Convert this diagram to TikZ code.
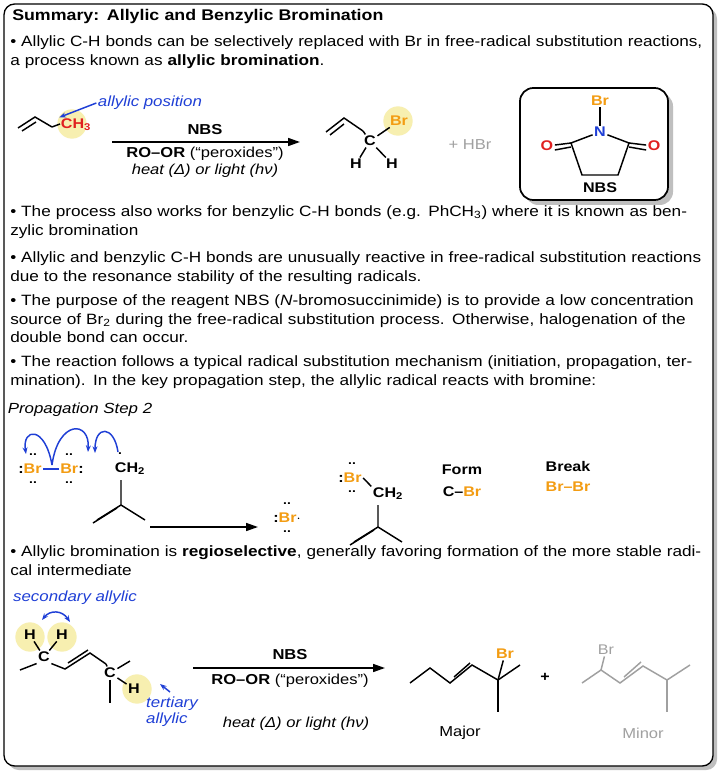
\documentclass[tikz,border=0pt]{standalone}
\usepackage{fontspec}
\setmainfont[FakeStretch=1.15]{Liberation Sans}
\usetikzlibrary{arrows.meta,positioning,calc}
\definecolor{BrOrange}{HTML}{f39c12}
\definecolor{ArrBlue}{HTML}{1f3fd6}
\definecolor{HiYellow}{HTML}{f7efb0}
\definecolor{ProdGray}{HTML}{a0a0a0}
\definecolor{OxRed}{HTML}{e02020}
\newcommand{\brm}{\textcolor{BrOrange}{Br}}
\begin{document}
\begin{tikzpicture}[x=0.75pt,y=-0.75pt,
    para/.style={anchor=north west,align=left,text width=698*0.75pt,
                 font=\fontsize{11.2}{14.2}\selectfont,inner sep=0pt},
    atom/.style={font=\fontsize{10.5}{11}\selectfont\bfseries,inner sep=1pt},
    pair/.style={font=\fontsize{9}{9}\selectfont\bfseries,inner sep=0pt},
    note/.style={font=\fontsize{11}{12}\selectfont\itshape,text=ArrBlue,align=left,inner sep=1pt},
    cond/.style={font=\fontsize{10.8}{12}\selectfont,inner sep=1pt},
    bond/.style={line width=1.1pt},
    glow/.style={circle,fill=HiYellow,minimum size=22pt,inner sep=0pt},
    rxn/.style={-{Triangle[length=9pt,width=6pt]},line width=1.2pt},
    curly/.style={-{Stealth[length=5pt]},ArrBlue,line width=1.1pt}]
  \useasboundingbox (0,0) rectangle (720,773);

  % frame
  \fill[black!25,rounded corners=8pt] (8,8) rectangle (717,770);
  \draw[fill=white,line width=1pt,rounded corners=8pt] (4,4) rectangle (713,766);

  % text
  \node[para,font=\fontsize{11.6}{12}\selectfont\bfseries] (title) at (12,9) {Summary: Allylic and Benzylic Bromination};
  \node[para] (p1) at (10,35) {• Allylic C-H bonds can be selectively replaced with Br in free-radical substitution reactions, a process known as \textbf{allylic bromination}.};
  \node[para] (p2) at (10,205) {• The process also works for benzylic C-H bonds (e.g. PhCH\textsubscript{3}) where it is known as benzylic bromination};
  \node[para] (p3) at (10,251) {• Allylic and benzylic C-H bonds are unusually reactive in free-radical substitution reactions due to the resonance stability of the resulting radicals.};
  \node[para] (p4) at (10,294) {• The purpose of the reagent NBS (\textit{N}-bromosuccinimide) is to provide a low concentration source of Br\textsubscript{2} during the free-radical substitution process. Otherwise, halogenation of the double bond can occur.};
  \node[para] (p5) at (10,355) {• The reaction follows a typical radical substitution mechanism (initiation, propagation, termination). In the key propagation step, the allylic radical reacts with bromine:};
  \node[para] (p6) at (10,545) {• Allylic bromination is \textbf{regioselective}, generally favoring formation of the more stable radical intermediate};

  % reaction 1
  \node[glow] at (72,124) {};
  \draw[bond] (18,128) -- (35,117) -- (52,127);
  \draw[bond] (22,131) -- (36,122);
  \draw[bond] (52,127) -- (60,124);
  \node[atom,text=OxRed] (ch3) at (76,125) {CH\textsubscript{3}};
  \node[note] (allyl) at (150,103) {allylic position};
  \draw[curly] (allyl.west) -- (ch3.north west);
  \coordinate (a1s) at (112,142);
  \coordinate (a1e) at (300,142);
  \draw[rxn] (a1s) -- (a1e);
  \node[cond,font=\fontsize{10.8}{12}\selectfont\bfseries] (nbs1) at (205,130) {NBS};
  \node[cond] (ro1) at (205,154) {\textbf{RO–OR} (“peroxides”)};
  \node[cond,font=\fontsize{10.8}{12}\selectfont\itshape] (ht1) at (205,171) {heat (Δ) or light (hν)};
  \node[glow] at (398,121) {};
  \draw[bond] (326,132) -- (344,118) -- (363,131);
  \draw[bond] (330,135) -- (344,124);
  \node[atom] (c1) at (370,141) {C};
  \draw[bond] (363,131) -- (c1);
  \node[atom,text=BrOrange] (br1) at (399,121) {Br};
  \node[atom] (h1) at (356,164) {H};
  \node[atom] (h2) at (392,164) {H};
  \draw[bond] (c1) -- (br1);
  \draw[bond] (c1) -- (h1);
  \draw[bond] (c1) -- (h2);
  \node[cond,text=ProdGray] (hbr) at (470,145) {+ HBr};

  % NBS box
  \fill[black!25,rounded corners=10pt] (525,93) rectangle (673,205);
  \draw[fill=white,line width=1.3pt,rounded corners=10pt] (520,88) rectangle (668,200);
  \node[atom,text=BrOrange] (nbr) at (600,101) {Br};
  \node[atom,text=ArrBlue] (nn) at (600,132) {N};
  \node[atom,text=OxRed] (o1) at (547,146) {O};
  \node[atom,text=OxRed] (o2) at (654,146) {O};
  \coordinate (cl) at (571,143);
  \coordinate (cr) at (629,143);
  \coordinate (bl) at (582,175);
  \coordinate (br) at (618,175);
  \draw[bond] (nbr) -- (nn);
  \draw[bond] (nn) -- (cl) -- (bl) -- (br) -- (cr) -- (nn);
  \draw[bond] (cl) -- (o1);
  \draw[bond] ($(cl)+(0,4)$) -- ($(o1.east)+(0,4)$);
  \draw[bond] (cr) -- (o2);
  \draw[bond] ($(cr)+(0,4)$) -- ($(o2.west)+(0,4)$);
  \node[atom] (nbs2) at (600,188) {NBS};

  % propagation step 2
  \node[note,text=black] (prop) at (80,410) {Propagation Step 2};
  \node[atom,text=BrOrange] (bra) at (30,469) {\textcolor{black}{:}Br};
  \node[atom,text=BrOrange] (brb) at (72,469) {Br\textcolor{black}{:}};
  \draw[bond,ArrBlue] (bra.east) -- (brb.west);
  \foreach \px/\py in {33/455,33/483,69/455,69/483,287/504,287/532,352/464,352/492}
    \node[pair] at (\px,\py) {..};
  \node[atom] (ch2a) at (130,469) {CH\textsubscript{2}};
  \node[pair] at (120,454) {.};
  \draw[bond] (121,480) -- (121,505) -- (97,520);
  \draw[bond] (117,508) -- (93,523);
  \draw[bond] (121,505) -- (145,520);
  \draw[curly] (52,465) .. controls (45,425) and (22,428) .. (26,454);
  \draw[curly] (52,465) .. controls (58,420) and (90,420) .. (88,452);
  \draw[curly] (118,452) .. controls (114,425) and (95,425) .. (95,453);
  \coordinate (a2s) at (150,527);
  \coordinate (a2e) at (258,527);
  \draw[rxn] (a2s) -- (a2e);
  \node[atom,text=BrOrange] (brr) at (287,518) {\textcolor{black}{:}Br\textcolor{black}{$\cdot$}};
  \node[atom,text=BrOrange] (brp) at (350,478) {\textcolor{black}{:}Br};
  \node[atom] (ch2b) at (388,494) {CH\textsubscript{2}};
  \draw[bond] (brp.east) -- (ch2b.north west);
  \draw[bond] (378,505) -- (378,527) -- (354,542);
  \draw[bond] (374,530) -- (350,545);
  \draw[bond] (378,527) -- (402,542);
  \node[atom] (form) at (462,470) {Form};
  \node[atom] (fcb) at (462,492) {C–\brm};
  \node[atom] (brk) at (568,466) {Break};
  \node[atom,text=BrOrange] (bbb) at (568,487) {Br–Br};

  % regioselectivity
  \node[note] (sec) at (75,598) {secondary allylic};
  \node[glow] at (30,637) {};
  \node[glow] at (62,637) {};
  \node[glow] at (137,689) {};
  \node[atom] (hs1) at (30,635) {H};
  \node[atom] (hs2) at (62,635) {H};
  \node[atom] (cs) at (44,657) {C};
  \draw[bond] (hs1) -- (cs);
  \draw[bond] (hs2) -- (cs);
  \draw[curly,{Stealth[length=5pt]}-{Stealth[length=5pt]}] (42,620) .. controls (50,610) and (62,610) .. (70,622);
  \draw[bond] (20,670) -- (cs.south west);
  \draw[bond] (cs.south east) -- (65,669) -- (90,653) -- (106,664);
  \draw[bond] (68,663) -- (88,650);
  \node[atom] (ct) at (110,673) {C};
  \draw[bond] (106,664) -- (ct);
  \draw[bond] (ct) -- (130,661);
  \draw[bond] (ct) -- (110,703);
  \node[atom] (ht) at (134,689) {H};
  \draw[bond] (ct) -- (ht);
  \node[note] (ter) at (172,712) {tertiary\\allylic};
  \draw[curly] (170,692) -- (160,684);
  \coordinate (a3s) at (193,668);
  \coordinate (a3e) at (385,668);
  \draw[rxn] (a3s) -- (a3e);
  \node[cond,font=\fontsize{10.8}{12}\selectfont\bfseries] (nbs3) at (290,655) {NBS};
  \node[cond] (ro3) at (290,681) {\textbf{RO–OR} (“peroxides”)};
  \node[cond,font=\fontsize{10.8}{12}\selectfont\itshape] (ht3) at (296,724) {heat (Δ) or light (hν)};
  % major
  \draw[bond] (410,683) -- (430,668) -- (450,683) -- (472,665) -- (498,680) -- (520,665);
  \draw[bond] (454,677) -- (470,663);
  \draw[bond] (498,680) -- (498,712);
  \node[atom,text=BrOrange] (brM) at (505,654) {Br};
  \draw[bond] (498,680) -- (brM);
  \node[cond] (maj) at (460,733) {Major};
  \node[atom] (plus) at (545,677) {+};
  % minor
  \begin{scope}[ProdGray]
    \draw[bond] (582,683) -- (601,670) -- (620,683) -- (643,666) -- (667,680) -- (690,665);
    \draw[bond] (624,677) -- (641,662);
    \draw[bond] (667,680) -- (667,712);
    \node[atom,font=\fontsize{10.5}{11}\selectfont] (brm) at (606,650) {Br};
    \draw[bond] (601,670) -- (brm);
    \node[cond] (mnr) at (643,733) {Minor};
  \end{scope}
\end{tikzpicture}
\end{document}
